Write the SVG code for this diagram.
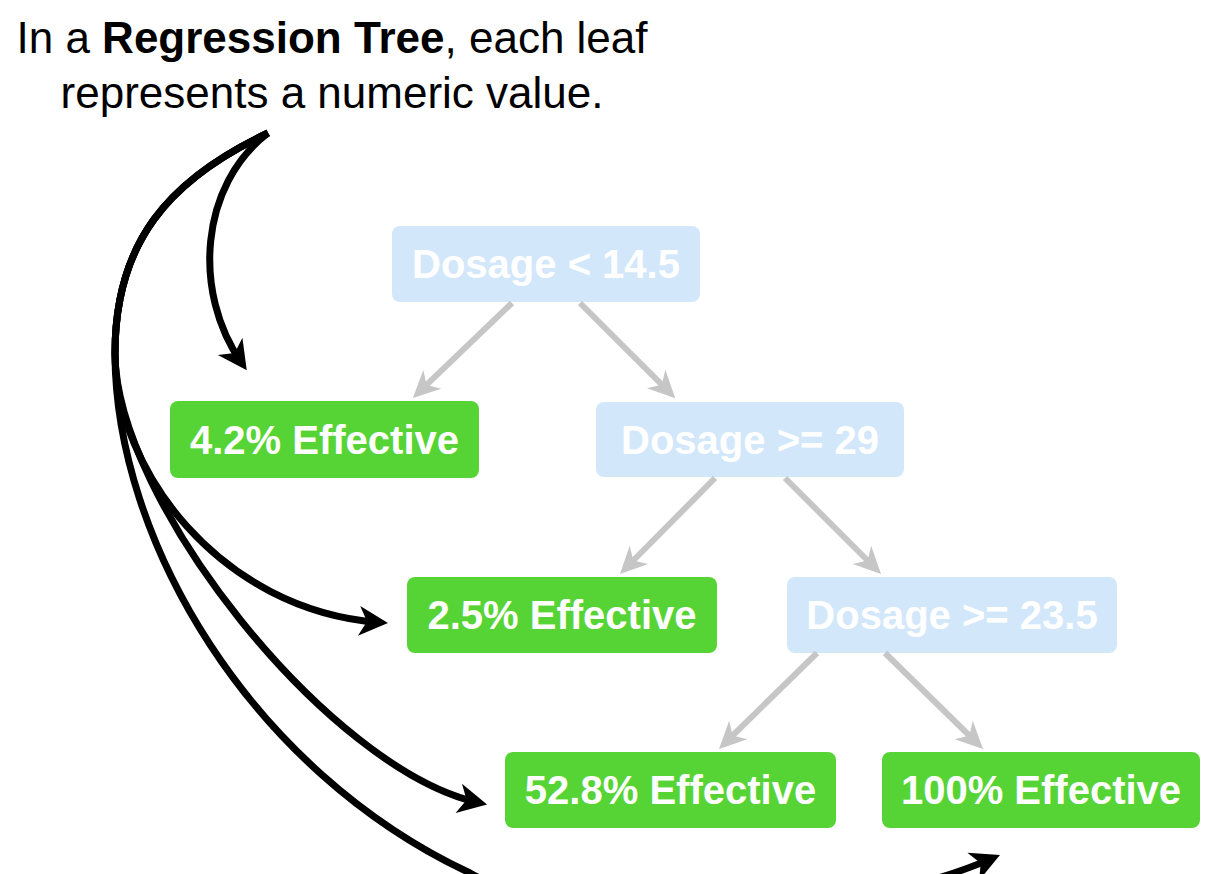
<svg xmlns="http://www.w3.org/2000/svg" width="1222" height="874" viewBox="0 0 1222 874">
<style>
.title{font-family:"Liberation Sans",Arial,sans-serif;font-size:44px;fill:#000;text-anchor:middle}
.b{font-weight:bold}
.leaf rect{fill:#57D435}
.split rect{fill:#D3E7FB}
.lbl{font-family:"Liberation Sans",Arial,sans-serif;font-size:40px;font-weight:bold;fill:#fff;text-anchor:middle}
.gray{stroke:#C6C6C6;stroke-width:6;fill:none;marker-end:url(#ga)}
.blk{stroke:#000;stroke-width:7;fill:none;marker-end:url(#ba)}
</style>
<defs>
<marker id="ga" markerUnits="userSpaceOnUse" markerWidth="34" markerHeight="30" viewBox="-31 -15 34 30" refX="-7" refY="0" orient="auto">
<path d="M0,0 L-27,-13 L-19,0 L-27,13 Z" fill="#C6C6C6"/>
</marker>
<marker id="ba" markerUnits="userSpaceOnUse" markerWidth="38" markerHeight="34" viewBox="-34 -17 38 34" refX="-9" refY="0" orient="auto">
<path d="M0,0 L-29,-15 L-21,0 L-29,15 Z" fill="#000"/>
</marker>
</defs>
<text class="title" x="332" y="53">In a <tspan class="b">Regression Tree</tspan>, each leaf</text>
<text class="title" x="332" y="108">represents a numeric value.</text>
<g id="n-root" class="split"><rect x="392" y="226" width="308" height="76" rx="8"/><text class="lbl" x="546" y="278">Dosage &lt; 14.5</text></g>
<g id="n-d29" class="split"><rect x="596" y="402" width="308" height="75" rx="8"/><text class="lbl" x="750" y="454">Dosage &gt;= 29</text></g>
<g id="n-d235" class="split"><rect x="787" y="577" width="330" height="76" rx="8"/><text class="lbl" x="952" y="629">Dosage &gt;= 23.5</text></g>
<g id="n-l42" class="leaf"><rect x="170" y="401" width="309" height="77" rx="8"/><text class="lbl" x="324.5" y="454">4.2% Effective</text></g>
<g id="n-l25" class="leaf"><rect x="407" y="577" width="310" height="76" rx="8"/><text class="lbl" x="562" y="629">2.5% Effective</text></g>
<g id="n-l528" class="leaf"><rect x="505" y="752" width="331" height="76" rx="8"/><text class="lbl" x="670.5" y="804">52.8% Effective</text></g>
<g id="n-l100" class="leaf"><rect x="882" y="752" width="318" height="76" rx="8"/><text class="lbl" x="1041" y="804">100% Effective</text></g>
<g id="connectors">
<path class="gray" d="M512,303 L417.9,393.2"/>
<path class="gray" d="M580,303 L670.3,393.2"/>
<path class="gray" d="M715,478 L624.9,569"/>
<path class="gray" d="M785,478 L876.1,569"/>
<path class="gray" d="M817,653 L724,744"/>
<path class="gray" d="M885,653 L978,744"/>
<path class="blk" d="M268,133 C200,185 192,292 241.6,362.8"/>
<path class="blk" d="M268,133 C168,180 115,243 115,353 C115,470 220,610 379,622.4"/>
<path class="blk" d="M268,133 C168,180 115,243 115,353 C115,500 330,770 478.3,802.6"/>
<path class="blk" d="M268,133 C168,180 115,243 115,353 C115,540 250,770 470,873 C600,946 860,915 991.7,858.6"/>
</g>
</svg>
